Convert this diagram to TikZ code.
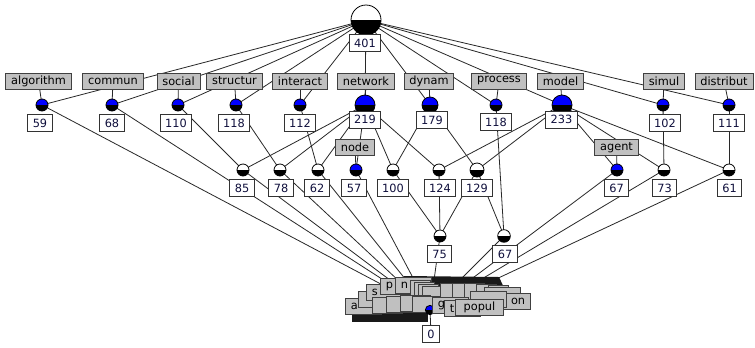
\documentclass[tikz,border=0pt]{standalone}
\usepackage{fontspec}
\setmainfont{DejaVu Sans}
\usetikzlibrary{backgrounds}
\definecolor{lgray}{RGB}{192,192,192}
\definecolor{numtext}{RGB}{15,15,60}
\definecolor{edgecol}{RGB}{40,40,40}
\begin{document}
\begin{tikzpicture}[x=0.75pt,y=-0.75pt,
  every node/.style={font=\fontsize{8.5}{10}\selectfont},
  edge/.style={draw=edgecol, line width=0.6pt},
  attr/.style={draw=black!75, line width=0.7pt, fill=lgray, minimum height=12pt, inner xsep=4pt, inner ysep=0pt, text=black},
  num/.style={draw=black!80, line width=0.6pt, fill=white, minimum height=12.75pt, inner xsep=3.8pt, inner ysep=0pt, text=numtext},
  concw/.style={circle, draw=black, line width=0.6pt, inner sep=0pt, minimum size=#1, fill=white,
     path picture={\fill[black] (path picture bounding box.west) rectangle (path picture bounding box.south east);}},
  concb/.style={concw=#1, fill=blue},
  cl/.style={attr, anchor=north west, text width=#1},
]
\useasboundingbox (0,0) rectangle (755,347);

% top
\node[concw=22.5pt] (T) at (366,20) {};
\node[num] (n401) at (365,43) {401};

% layer 1
\node[concb=9pt] (c59) at (42,105) {};
\node[concb=9pt] (c68) at (112,105) {};
\node[concb=9pt] (c110) at (178,105) {};
\node[concb=9pt] (c118a) at (236,105) {};
\node[concb=9pt] (c112) at (300,105) {};
\node[concb=15pt] (c219) at (365,105) {};
\node[concb=12pt] (c179) at (430,105) {};
\node[concb=9pt] (c118b) at (496,105) {};
\node[concb=15pt] (c233) at (562,105) {};
\node[concb=9pt] (c102) at (663,105) {};
\node[concb=9pt] (c111) at (729,105) {};

\node[attr] (lalg) at (38.5,81) {algorithm};
\node[attr] (lcom) at (113,81) {commun};
\node[attr] (lsoc) at (178.5,81) {social};
\node[attr] (lstr) at (234.5,81) {structur};
\node[attr] (lint) at (300,81) {interact};
\node[attr] (lnet) at (366,81) {network};
\node[attr] (ldyn) at (429,81) {dynam};
\node[attr] (lpro) at (499,81) {process};
\node[attr] (lmod) at (560.5,81) {model};
\node[attr] (lsim) at (664,81) {simul};
\node[attr] (ldis) at (724,81) {distribut};

\node[num] (n59) at (40,123) {59};
\node[num] (n68) at (112,123) {68};
\node[num] (n110) at (176,123) {110};
\node[num] (n118a) at (234,123) {118};
\node[num] (n112) at (300,123) {112};
\node[num] (n219) at (365,119.5) {219};
\node[num] (n179) at (432,120) {179};
\node[num] (n118b) at (496,122) {118};
\node[num] (n233) at (561.5,119.5) {233};
\node[num] (n102) at (665,123) {102};
\node[num] (n111) at (729,123) {111};

% layer 2
\node[concw=9pt] (c85) at (243,170) {};
\node[concw=9pt] (c78) at (280,170) {};
\node[concw=9pt] (c62) at (318,170) {};
\node[concb=9pt] (c57) at (356,170) {};
\node[concw=9pt] (c100) at (393,170) {};
\node[concw=9pt] (c124) at (439,170) {};
\node[concw=10.5pt] (c129) at (477,170) {};
\node[concb=9pt] (c67a) at (617,170) {};
\node[concw=9pt] (c73) at (664,170) {};
\node[concw=9pt] (c61) at (729,170) {};

\node[attr] (lnode) at (355,147) {node};
\node[attr] (lagent) at (616.5,147.5) {agent};

\node[num] (n85) at (242,188) {85};
\node[num] (n78) at (281,188) {78};
\node[num] (n62) at (317,188) {62};
\node[num] (n57) at (354,188) {57};
\node[num] (n100) at (393,188) {100};
\node[num] (n124) at (440,188) {124};
\node[num] (n129) at (477,188) {129};
\node[num] (n67a) at (616.5,188) {67};
\node[num] (n73) at (664.5,188) {73};
\node[num] (n61) at (729.5,188) {61};

% layer 3
\node[concw=9pt] (c75) at (440,236) {};
\node[concw=9.5pt] (c67b) at (504,236) {};
\node[num] (n75) at (439.5,254) {75};
\node[num] (n67b) at (505,254) {67};

% bottom cluster
\fill[black!90] (404,276) -- (499,277) -- (506,292) -- (404,292) -- cycle;
\fill[black!90] (352,304) rectangle (428,322);
\node[cl=19pt, align=left] (ka) at (345,298) {a};
\node[cl=19pt] (kb) at (358,291) {};
\node[cl=19pt, align=left] (ks) at (366,284) {s};
\node[cl=19pt, align=left] (kp) at (380,278) {p};
\node[cl=19pt, align=left] (kn) at (395,277) {n};
\node[cl=7pt] (kc1) at (410,280) {};
\node[cl=7pt] (kc2) at (414,282) {};
\node[cl=7pt] (kc3) at (418,284) {};
\node[cl=7pt] (kc4) at (422,286) {};
\node[cl=14.5pt] (kl1) at (372,297) {};
\node[cl=14.5pt] (kl2) at (386,296) {};
\node[cl=14.5pt] (kl3) at (400,295) {};
\node[cl=14.5pt] (kl4) at (412,296) {};
\node[cl=7pt] (kr3) at (440,283) {};
\node[cl=7pt] (kr4) at (452,283) {};
\node[cl=7pt] (kr5) at (464,283) {};
\node[cl=7pt] (kr6) at (476,284) {};
\node[cl=7pt] (kr7) at (488,285) {};
\node[cl=19pt] (kr1) at (484,287) {};
\node[cl=19pt, align=right] (kon) at (494,293) {on};
\node[cl=19pt] (kr2) at (470,291) {};
\node[concb=7pt] (c0) at (430,310) {};
\node[cl=19pt, align=left] (kg) at (432,297) {g};
\node[cl=19pt, align=left] (kt) at (444,300) {t};
\node[attr, anchor=north west, minimum width=36pt] (kpopul) at (455,299) {popul};
\node[num] (n0) at (431,334) {0};

\begin{scope}[on background layer]
\fill[white] (0,0) rectangle (755,347);
\foreach \a/\b in {T/c59,T/c68,T/c110,T/c118a,T/c112,T/c219,T/c179,T/c118b,T/c233,T/c102,T/c111,
  c110/c85,c219/c85,c118a/c78,c219/c78,c112/c62,c219/c62,c219/c57,c219/c100,c179/c100,
  c219/c124,c233/c124,c179/c129,c233/c129,c233/c67a,c233/c73,c102/c73,c233/c61,c111/c61,
  c100/c75,c124/c75,c129/c75,c129/c67b,c118b/c67b,
  c59/c0,c68/c0,c85/c0,c78/c0,c62/c0,c57/c0,c75/c0,c67b/c0,c67a/c0,c73/c0,c61/c0,
  lalg/c59,lcom/c68,lsoc/c110,lstr/c118a,lint/c112,lnet/c219,ldyn/c179,lpro/c118b,lmod/c233,
  lsim/c102,ldis/c111,lnode/c57,lagent/c67a,c0/n0}
  \draw[edge] (\a.center) -- (\b.center);
\end{scope}
\end{tikzpicture}
\end{document}
